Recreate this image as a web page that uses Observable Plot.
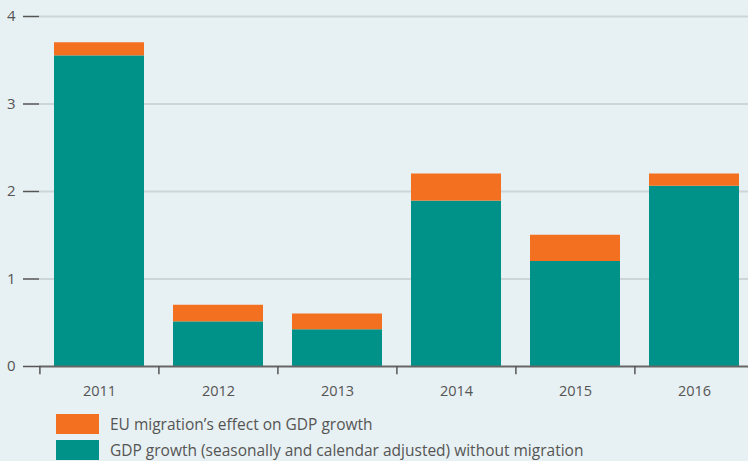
<!DOCTYPE html>
<html>
<head>
<meta charset="utf-8">
<script src="https://cdn.jsdelivr.net/npm/d3@7"></script>
<script src="https://cdn.jsdelivr.net/npm/@observablehq/plot@0.6"></script>
<style>
  html, body { margin: 0; padding: 0; background: #e7f0f2; }
  body { width: 748px; height: 461px; overflow: hidden; font-family: "Open Sans", sans-serif; color: #555; }
  #chart svg { display: block; }
  .legend { position: relative; margin-left: 56px; margin-top: 9px; }
  .item { display: flex; align-items: center; height: 20px; margin-bottom: 6px; font-size: 15.5px; }
  .sw { width: 43px; height: 20px; margin-right: 11px; flex: none; }
</style>
</head>
<body>
<div id="chart"></div>
<div class="legend" id="legend"></div>
<script>
const years = ["2011", "2012", "2013", "2014", "2015", "2016"];
const baseGrowth = [3.55, 0.51, 0.42, 1.89, 1.20, 2.06];
const migrationEffect = [0.15, 0.19, 0.18, 0.31, 0.30, 0.14];
const seriesNames = [
  "GDP growth (seasonally and calendar adjusted) without migration",
  "EU migration’s effect on GDP growth"
];
const seriesColors = ["#009288", "#f37021"];
const yTicks = [0, 1, 2, 3, 4];
const gridTicks = [1, 2, 3, 4];

const rows = [];
years.forEach((y, i) => {
  rows.push({year: y, series: seriesNames[0], value: baseGrowth[i]});
  rows.push({year: y, series: seriesNames[1], value: migrationEffect[i]});
});

const W = 748, H = 405;
const xRange = [38.9, 754.1];
const step = (xRange[1] - xRange[0]) / years.length;

const chart = Plot.plot({
  width: W,
  height: H,
  marginLeft: 39,
  marginRight: 0,
  marginTop: 16,
  marginBottom: 39,
  style: {background: "#e7f0f2", fontFamily: "Open Sans, sans-serif", fontSize: "14px", color: "#555"},
  x: {domain: years, range: xRange, paddingInner: 0.245, paddingOuter: 0.1225, label: null},
  y: {domain: [0, 4], label: null},
  color: {domain: seriesNames, range: seriesColors},
  marks: [
    Plot.ruleY(gridTicks, {stroke: "#cdd5d8", strokeWidth: 2}),
    Plot.barY(rows, {x: "year", y: "value", fill: "series"}),
    Plot.ruleY([0], {stroke: "#666", strokeWidth: 2}),
    Plot.axisY(yTicks, {tickSize: 16, tickPadding: 8, tickFormat: "d", stroke: "#555", strokeWidth: 1.5, fill: "#555", fontSize: 15, label: null}),
    Plot.axisX({tickSize: 0, tickPadding: 19, fill: "#555", fontSize: 14.5, label: null}),
    Plot.ruleX(years, {x: d => d, dx: -step / 2, y1: 0, y2: -0.095, stroke: "#555", strokeWidth: 1.5})
  ]
});
document.getElementById("chart").appendChild(chart);

const legend = document.getElementById("legend");
[1, 0].forEach(i => {
  const item = document.createElement("div");
  item.className = "item";
  const sw = document.createElement("div");
  sw.className = "sw";
  sw.style.background = seriesColors[i];
  const t = document.createElement("span");
  t.textContent = seriesNames[i];
  item.appendChild(sw);
  item.appendChild(t);
  legend.appendChild(item);
});
</script>
</body>
</html>
